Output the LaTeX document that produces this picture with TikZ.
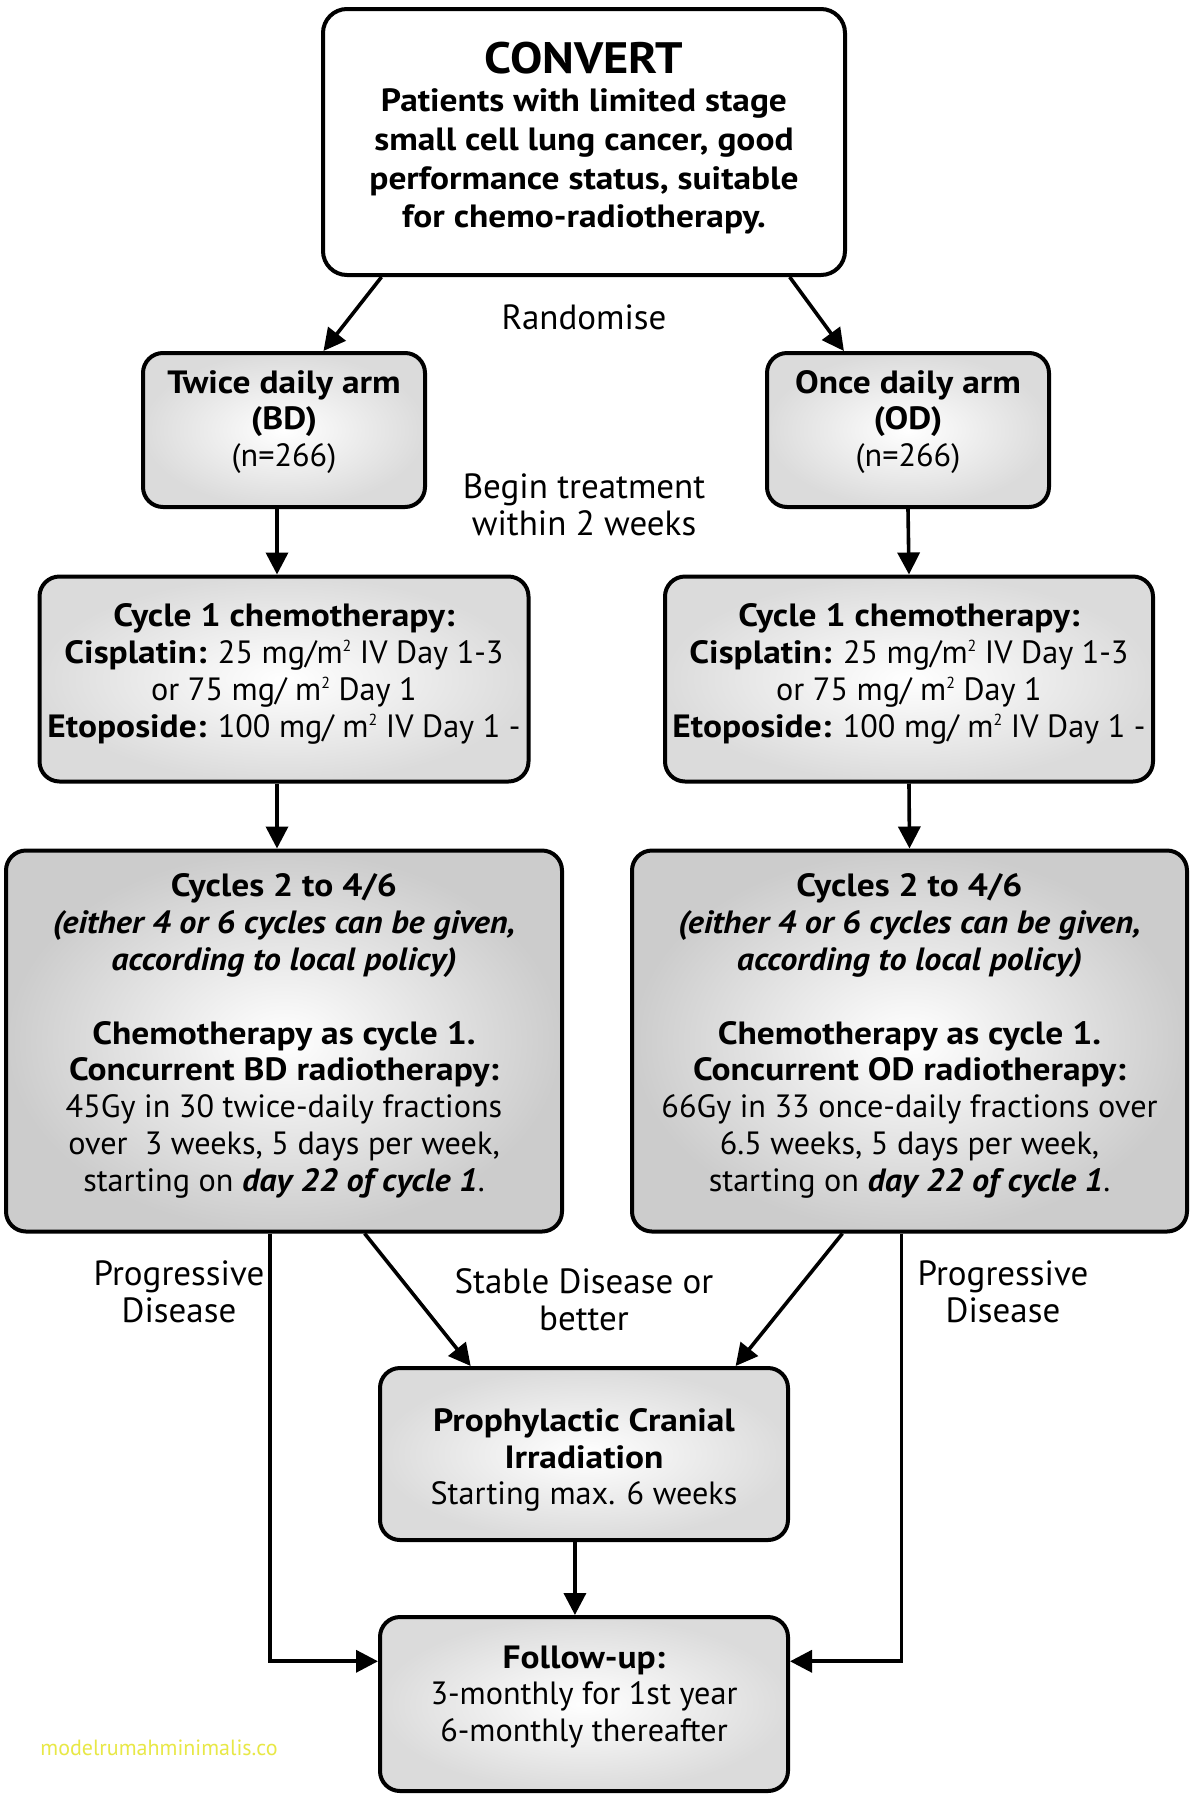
\documentclass[tikz,border=0pt]{standalone}
\usepackage{fontspec}
\setmainfont{PT Sans}[BoldFeatures={FakeStretch=1.1},BoldItalicFeatures={FakeStretch=1.06}]
\usetikzlibrary{arrows.meta,calc}
\definecolor{wmyellow}{RGB}{232,232,70}
\newcommand{\sqsup}{\raisebox{0.75ex}{\fontsize{8}{8}\selectfont 2}}
\begin{document}
\begin{tikzpicture}[x=0.5pt,y=-0.5pt,
  boxbase/.style={draw=black,line width=2pt,rounded corners=10pt,inner sep=0pt},
  lightbox/.style={boxbase,shading=radial,inner color=white,outer color=gray!28},
  darkbox/.style={boxbase,shading=radial,inner color=white,outer color=gray!40},
  boxtext/.style={align=center,inner sep=0pt,font=\fontsize{16.1}{18.4}\selectfont},
  lbl/.style={align=center,inner sep=0pt,font=\fontsize{17.5}{18.6}\selectfont},
  arr/.style={line width=1.8pt,-{Triangle[length=11pt,width=11pt]}}]
\fill[white] (0,0) rectangle (1193,1800);
\useasboundingbox (0,0) rectangle (1193,1800);

% boxes
\node[boxbase,fill=white,rounded corners=12pt,minimum width=261pt,minimum height=133pt] (convert) at (584,142) {};
\node[lightbox,minimum width=141pt,minimum height=77pt] (bd) at (284,430) {};
\node[lightbox,minimum width=141pt,minimum height=77pt] (od) at (908,430) {};
\node[lightbox,minimum width=244.5pt,minimum height=102.5pt] (c1l) at (284,679) {};
\node[lightbox,minimum width=244pt,minimum height=102.5pt] (c1r) at (909,679) {};
\node[darkbox,minimum width=278pt,minimum height=190.5pt] (c2l) at (284,1041) {};
\node[darkbox,minimum width=277.5pt,minimum height=190.5pt] (c2r) at (909.5,1041) {};
\node[lightbox,minimum width=204pt,minimum height=86pt] (pci) at (584,1454) {};
\node[lightbox,minimum width=204pt,minimum height=87pt] (fu) at (584,1704) {};

% box texts
\node[boxtext,font=\fontsize{16.1}{19.3}\selectfont\bfseries] (convertt) at (584,138)
  {{\fontsize{22}{24}\selectfont CONVERT}\\[0pt]
   Patients with limited stage\\ small cell lung cancer, good\\ performance status, suitable\\ for chemo-radiotherapy.};
\node[boxtext] (bdt) at (284,422)
  {\textbf{Twice daily arm}\\ \textbf{(BD)}\\ (n=266)};
\node[boxtext] (odt) at (908,422)
  {\textbf{Once daily arm}\\ \textbf{(OD)}\\ (n=266)};
\node[boxtext] (c1lt) at (284,674)
  {\textbf{Cycle 1 chemotherapy:}\\ \textbf{Cisplatin:} 25 mg/m\sqsup{} IV Day 1-3\\
   or 75 mg/ m\sqsup{} Day 1\\ \textbf{Etoposide:} 100 mg/ m\sqsup{} IV Day 1 -};
\node[boxtext] (c1rt) at (909,674)
  {\textbf{Cycle 1 chemotherapy:}\\ \textbf{Cisplatin:} 25 mg/m\sqsup{} IV Day 1-3\\
   or 75 mg/ m\sqsup{} Day 1\\ \textbf{Etoposide:} 100 mg/ m\sqsup{} IV Day 1 -};
\node[boxtext] (c2lt) at (284,1036)
  {\textbf{Cycles 2 to 4/6}\\ \textbf{\textit{(either 4 or 6 cycles can be given,}}\\
   \textbf{\textit{according to local policy)}}\\[18.4pt]
   \textbf{Chemotherapy as cycle 1.}\\ \textbf{Concurrent BD radiotherapy:}\\
   45Gy in 30 twice-daily fractions\\ over\ \ 3 weeks, 5 days per week,\\
   starting on \textbf{\textit{day 22 of cycle 1}}.};
\node[boxtext] (c2rt) at (909.5,1036)
  {\textbf{Cycles 2 to 4/6}\\ \textbf{\textit{(either 4 or 6 cycles can be given,}}\\
   \textbf{\textit{according to local policy)}}\\[18.4pt]
   \textbf{Chemotherapy as cycle 1.}\\ \textbf{Concurrent OD radiotherapy:}\\
   66Gy in 33 once-daily fractions over\\ 6.5 weeks, 5 days per week,\\
   starting on \textbf{\textit{day 22 of cycle 1}}.};
\node[boxtext] (pcit) at (584,1460)
  {\textbf{Prophylactic Cranial}\\ \textbf{Irradiation}\\ Starting max. 6 weeks};
\node[boxtext] (fut) at (584,1697)
  {\textbf{Follow-up:}\\ 3-monthly for 1st year\\ 6-monthly thereafter};

% free labels
\node[lbl] (rand) at (584,317) {Randomise};
\node[lbl] (begin) at (584,505) {Begin treatment\\ within 2 weeks};
\node[lbl] (pdl) at (179,1292) {Progressive\\ Disease};
\node[lbl] (pdr) at (1003,1292) {Progressive\\ Disease};
\node[lbl] (stable) at (584,1300) {Stable Disease or\\ better};
\node[lbl,text=wmyellow,font=\fontsize{11}{12}\selectfont] (wm) at (159,1748) {modelrumahminimalis.co};

% connectors
\draw[arr] ($(convert.south west)!0.115!(convert.south east)$) -- ($(bd.north west)!0.638!(bd.north east)$);
\draw[arr] ($(convert.south west)!0.891!(convert.south east)$) -- ($(od.north west)!0.276!(od.north east)$);
\draw[arr] ($(bd.south)+(-7,0)$) -- ($(c1l.north)+(-7,0)$);
\draw[arr] (od.south) -- (c1r.north);
\draw[arr] ($(c1l.south)+(-7,0)$) -- ($(c2l.north)+(-7,0)$);
\draw[arr] (c1r.south) -- (c2r.north);
\draw[arr] ($(c2l.south west)!0.644!(c2l.south east)$) -- ($(pci.north west)!0.225!(pci.north east)$);
\draw[arr] ($(c2r.south west)!0.38!(c2r.south east)$) -- ($(pci.north west)!0.868!(pci.north east)$);
\draw[arr] ($(pci.south west)!0.478!(pci.south east)$) -- ($(fu.north west)!0.478!(fu.north east)$);
\draw[arr] ($(c2l.south west)!0.475!(c2l.south east)$) |- ($(fu.north west)!0.26!(fu.south west)$);
\draw[arr] ($(c2r.south west)!0.486!(c2r.south east)$) |- ($(fu.north east)!0.26!(fu.south east)$);
\end{tikzpicture}
\end{document}
